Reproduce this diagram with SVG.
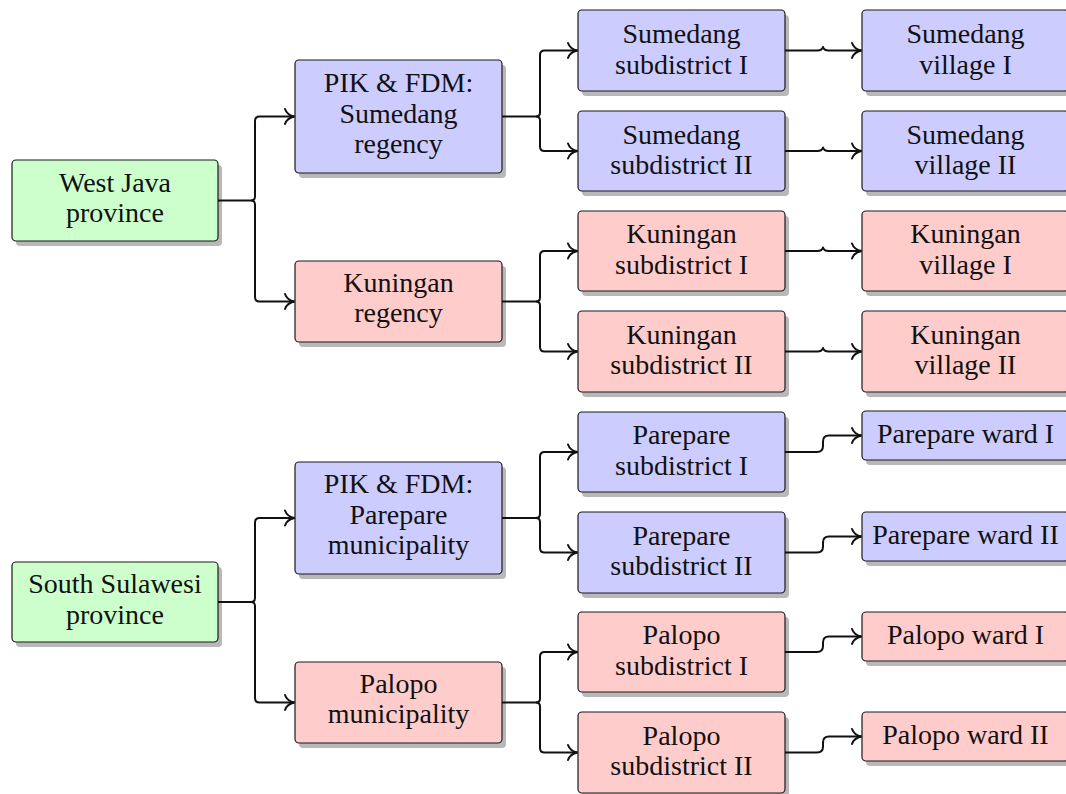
<svg xmlns="http://www.w3.org/2000/svg" width="1066" height="794" viewBox="0 0 1066 794">
<style>
.box{stroke:#1a1a1a;stroke-width:1.2}
.sh{fill:#b8b8b8}
.g{fill:#ccffcc}
.b{fill:#ccccff}
.r{fill:#ffcccc}
text{font-family:"Liberation Serif","Times New Roman",serif;font-size:28px;fill:#111;text-anchor:middle}
.c{fill:none;stroke:#111;stroke-width:2;stroke-linejoin:round;marker-end:url(#ar)}
</style>
<defs>
<filter id="bl" x="-10%" y="-10%" width="120%" height="130%"><feGaussianBlur stdDeviation="0.6"/></filter>
<marker id="ar" markerUnits="userSpaceOnUse" markerWidth="24" markerHeight="24" viewBox="-12 -12 24 24" refX="0" refY="0" orient="auto" overflow="visible">
<path d="M-9.5,-7.5 C-8,-3 -4,-0.8 0,0 C-4,0.8 -8,3 -9.5,7.5" fill="none" stroke="#111" stroke-width="2" stroke-linecap="round"/>
</marker>
</defs>

<g id="west-java">
<rect class="sh" filter="url(#bl)" x="16" y="165" width="206" height="81" rx="4"/>
<rect class="box g" x="12" y="160" width="206" height="81" rx="4"/>
<text x="115" y="191.5">West Java</text><text x="115" y="222">province</text>
</g>
<g id="south-sulawesi">
<rect class="sh" filter="url(#bl)" x="16" y="567" width="206" height="80" rx="4"/>
<rect class="box g" x="12" y="562" width="206" height="80" rx="4"/>
<text x="115" y="593">South Sulawesi</text><text x="115" y="623.5">province</text>
</g>

<g id="sumedang-regency">
<rect class="sh" filter="url(#bl)" x="299" y="65" width="207" height="113" rx="4"/>
<rect class="box b" x="295" y="60" width="207" height="113" rx="4"/>
<text x="398.5" y="92">PIK &amp; FDM:</text><text x="398.5" y="122.5">Sumedang</text><text x="398.5" y="153">regency</text>
</g>
<g id="kuningan-regency">
<rect class="sh" filter="url(#bl)" x="299" y="266" width="207" height="81" rx="4"/>
<rect class="box r" x="295" y="261" width="207" height="81" rx="4"/>
<text x="398.5" y="291.5">Kuningan</text><text x="398.5" y="322">regency</text>
</g>
<g id="parepare-municipality">
<rect class="sh" filter="url(#bl)" x="299" y="467" width="207" height="112" rx="4"/>
<rect class="box b" x="295" y="462" width="207" height="112" rx="4"/>
<text x="398.5" y="493">PIK &amp; FDM:</text><text x="398.5" y="523.5">Parepare</text><text x="398.5" y="554">municipality</text>
</g>
<g id="palopo-municipality">
<rect class="sh" filter="url(#bl)" x="299" y="667" width="207" height="81" rx="4"/>
<rect class="box r" x="295" y="662" width="207" height="81" rx="4"/>
<text x="398.5" y="692.5">Palopo</text><text x="398.5" y="723">municipality</text>
</g>

<g id="sumedang-subdistrict-1">
<rect class="sh" filter="url(#bl)" x="582" y="15" width="207" height="81" rx="4"/>
<rect class="box b" x="578" y="10" width="207" height="81" rx="4"/>
<text x="681.5" y="43">Sumedang</text><text x="681.5" y="73.5">subdistrict I</text>
</g>
<g id="sumedang-subdistrict-2">
<rect class="sh" filter="url(#bl)" x="582" y="116" width="207" height="80" rx="4"/>
<rect class="box b" x="578" y="111" width="207" height="80" rx="4"/>
<text x="681.5" y="143.5">Sumedang</text><text x="681.5" y="174">subdistrict II</text>
</g>
<g id="kuningan-subdistrict-1">
<rect class="sh" filter="url(#bl)" x="582" y="216" width="207" height="80" rx="4"/>
<rect class="box r" x="578" y="211" width="207" height="80" rx="4"/>
<text x="681.5" y="243">Kuningan</text><text x="681.5" y="273.5">subdistrict I</text>
</g>
<g id="kuningan-subdistrict-2">
<rect class="sh" filter="url(#bl)" x="582" y="316" width="207" height="81" rx="4"/>
<rect class="box r" x="578" y="311" width="207" height="81" rx="4"/>
<text x="681.5" y="343.5">Kuningan</text><text x="681.5" y="374">subdistrict II</text>
</g>
<g id="parepare-subdistrict-1">
<rect class="sh" filter="url(#bl)" x="582" y="417" width="207" height="80" rx="4"/>
<rect class="box b" x="578" y="412" width="207" height="80" rx="4"/>
<text x="681.5" y="444">Parepare</text><text x="681.5" y="474.5">subdistrict I</text>
</g>
<g id="parepare-subdistrict-2">
<rect class="sh" filter="url(#bl)" x="582" y="517" width="207" height="81" rx="4"/>
<rect class="box b" x="578" y="512" width="207" height="81" rx="4"/>
<text x="681.5" y="544.5">Parepare</text><text x="681.5" y="575">subdistrict II</text>
</g>
<g id="palopo-subdistrict-1">
<rect class="sh" filter="url(#bl)" x="582" y="617" width="207" height="80" rx="4"/>
<rect class="box r" x="578" y="612" width="207" height="80" rx="4"/>
<text x="681.5" y="644">Palopo</text><text x="681.5" y="674.5">subdistrict I</text>
</g>
<g id="palopo-subdistrict-2">
<rect class="sh" filter="url(#bl)" x="582" y="717" width="207" height="81" rx="4"/>
<rect class="box r" x="578" y="712" width="207" height="81" rx="4"/>
<text x="681.5" y="744.5">Palopo</text><text x="681.5" y="775">subdistrict II</text>
</g>

<g id="sumedang-village-1">
<rect class="sh" filter="url(#bl)" x="866" y="15" width="207" height="81" rx="4"/>
<rect class="box b" x="862" y="10" width="207" height="81" rx="4"/>
<text x="965.5" y="43">Sumedang</text><text x="965.5" y="73.5">village I</text>
</g>
<g id="sumedang-village-2">
<rect class="sh" filter="url(#bl)" x="866" y="116" width="207" height="80" rx="4"/>
<rect class="box b" x="862" y="111" width="207" height="80" rx="4"/>
<text x="965.5" y="143.5">Sumedang</text><text x="965.5" y="174">village II</text>
</g>
<g id="kuningan-village-1">
<rect class="sh" filter="url(#bl)" x="866" y="216" width="207" height="80" rx="4"/>
<rect class="box r" x="862" y="211" width="207" height="80" rx="4"/>
<text x="965.5" y="243">Kuningan</text><text x="965.5" y="273.5">village I</text>
</g>
<g id="kuningan-village-2">
<rect class="sh" filter="url(#bl)" x="866" y="316" width="207" height="81" rx="4"/>
<rect class="box r" x="862" y="311" width="207" height="81" rx="4"/>
<text x="965.5" y="343.5">Kuningan</text><text x="965.5" y="374">village II</text>
</g>
<g id="parepare-ward-1">
<rect class="sh" filter="url(#bl)" x="866" y="416" width="207" height="49" rx="4"/>
<rect class="box b" x="862" y="411" width="207" height="49" rx="4"/>
<text x="965.5" y="442.5">Parepare ward I</text>
</g>
<g id="parepare-ward-2">
<rect class="sh" filter="url(#bl)" x="866" y="517" width="207" height="49" rx="4"/>
<rect class="box b" x="862" y="512" width="207" height="49" rx="4"/>
<text x="965.5" y="543.5">Parepare ward II</text>
</g>
<g id="palopo-ward-1">
<rect class="sh" filter="url(#bl)" x="866" y="617" width="207" height="49" rx="4"/>
<rect class="box r" x="862" y="612" width="207" height="49" rx="4"/>
<text x="965.5" y="643.5">Palopo ward I</text>
</g>
<g id="palopo-ward-2">
<rect class="sh" filter="url(#bl)" x="866" y="717" width="207" height="49" rx="4"/>
<rect class="box r" x="862" y="712" width="207" height="49" rx="4"/>
<text x="965.5" y="743.5">Palopo ward II</text>
</g>

<g id="connectors">
<path class="c" d="M218,200.5 H251 Q255,200.5 255,196.5 V121 Q255,116.5 259.5,116.5 H294.5"/>
<path class="c" d="M251,200.5 Q255,200.5 255,204.5 V297 Q255,301.5 259.5,301.5 H294.5"/>
<path class="c" d="M218,602 H251 Q255,602 255,598 V522.5 Q255,518 259.5,518 H294.5"/>
<path class="c" d="M251,602 Q255,602 255,606 V698 Q255,702.5 259.5,702.5 H294.5"/>

<path class="c" d="M502,116.5 H536 Q540,116.5 540,112.5 V55 Q540,50.5 544.5,50.5 H577.5"/>
<path class="c" d="M536,116.5 Q540,116.5 540,120.5 V146.5 Q540,151 544.5,151 H577.5"/>
<path class="c" d="M502,301.5 H536 Q540,301.5 540,297.5 V255.5 Q540,251 544.5,251 H577.5"/>
<path class="c" d="M536,301.5 Q540,301.5 540,305.5 V347 Q540,351.5 544.5,351.5 H577.5"/>
<path class="c" d="M502,518 H536 Q540,518 540,514 V456.5 Q540,452 544.5,452 H577.5"/>
<path class="c" d="M536,518 Q540,518 540,522 V548 Q540,552.5 544.5,552.5 H577.5"/>
<path class="c" d="M502,702.5 H536 Q540,702.5 540,698.5 V656.5 Q540,652 544.5,652 H577.5"/>
<path class="c" d="M536,702.5 Q540,702.5 540,706.5 V748 Q540,752.5 544.5,752.5 H577.5"/>

<path class="c" d="M785,50.5 H817.5 Q822,50.5 823,47 Q824,50.5 828.5,50.5 H861.5"/>
<path class="c" d="M785,151 H817.5 Q822,151 823,147.5 Q824,151 828.5,151 H861.5"/>
<path class="c" d="M785,251 H817.5 Q822,251 823,247.5 Q824,251 828.5,251 H861.5"/>
<path class="c" d="M785,351.5 H817.5 Q822,351.5 823,348 Q824,351.5 828.5,351.5 H861.5"/>

<path class="c" d="M785,452 H817 Q823,452 823,446 V441.5 Q823,435.5 829,435.5 H861.5"/>
<path class="c" d="M785,552.5 H817 Q823,552.5 823,546.5 V542.5 Q823,536.5 829,536.5 H861.5"/>
<path class="c" d="M785,652 H817 Q823,652 823,646 V642.5 Q823,636.5 829,636.5 H861.5"/>
<path class="c" d="M785,752.5 H817 Q823,752.5 823,746.5 V742.5 Q823,736.5 829,736.5 H861.5"/>
</g>
</svg>
